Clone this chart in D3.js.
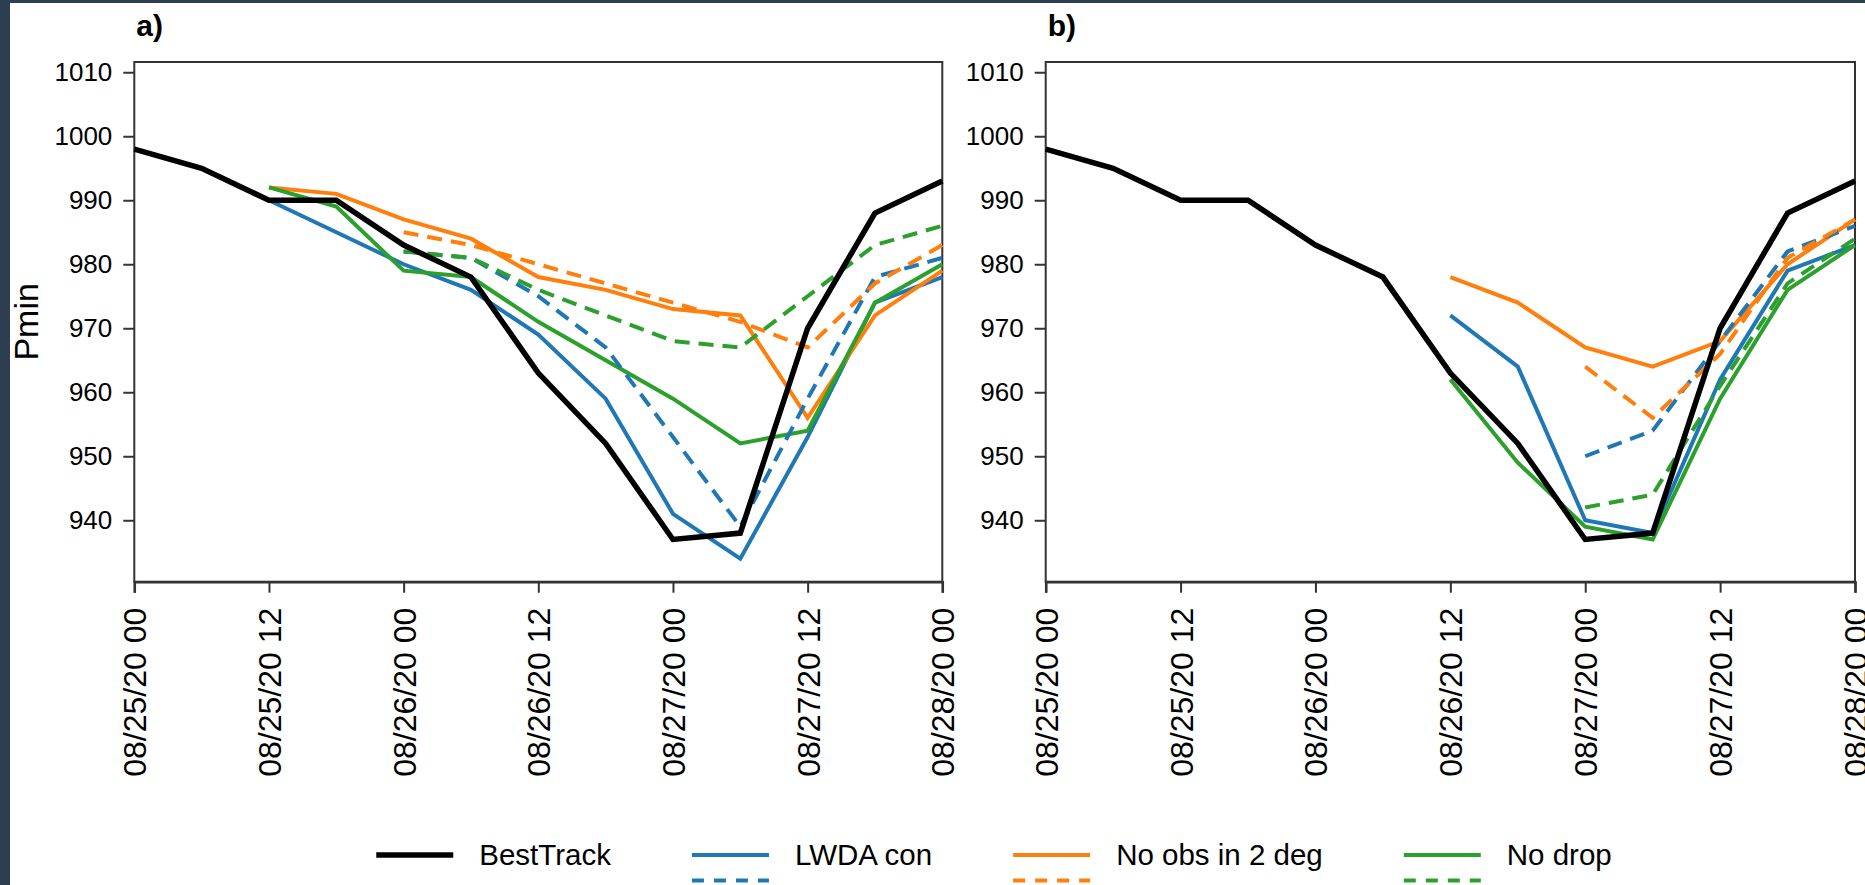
<!DOCTYPE html>
<html>
<head>
<meta charset="utf-8">
<script src="https://cdn.jsdelivr.net/npm/d3@7"></script>
<style>
  html, body { margin: 0; padding: 0; background: #fff; }
  svg { display: block; font-family: 'Liberation Sans', Arial, sans-serif; }
</style>
</head>
<body>
<div id="chart"></div>
<script>
'use strict';

const times = [
  '2020-08-25T00', '2020-08-25T06', '2020-08-25T12', '2020-08-25T18',
  '2020-08-26T00', '2020-08-26T06', '2020-08-26T12', '2020-08-26T18',
  '2020-08-27T00', '2020-08-27T06', '2020-08-27T12', '2020-08-27T18',
  '2020-08-28T00'
];
const tickTimes = [
  '2020-08-25T00', '2020-08-25T12', '2020-08-26T00', '2020-08-26T12',
  '2020-08-27T00', '2020-08-27T12', '2020-08-28T00'
];
const tickLabels = [
  '08/25/20 00', '08/25/20 12', '08/26/20 00', '08/26/20 12',
  '08/27/20 00', '08/27/20 12', '08/28/20 00'
];
const yTicks = [940, 950, 960, 970, 980, 990, 1000, 1010];
const yLimits = [930.4, 1011.6];

const bestTrack = [998, 995, 990, 990, 983, 978, 963, 952, 937, 938, 970, 988, 993];

const aLwdaCon = [null, null, 990, 985, 980, 976, 969, 959, 941, 934, 953, 974, 978];
const aLwdaConDash = [null, null, null, null, 982, 981, 975, 967, 953, 939, 959, 978, 981];
const aNoObs = [null, null, 992, 991, 987, 984, 978, 976, 973, 972, 956, 972, 979];
const aNoObsDash = [null, null, null, null, 985, 983, 980, 977, 974, 971, 967, 977, 983];
const aNoDrop = [null, null, 992, 989, 979, 978, 971, 965, 959, 952, 954, 974, 980];
const aNoDropDash = [null, null, null, null, 982, 981, 976, 972, 968, 967, 975, 983, 986];

const bLwdaCon = [null, null, null, null, null, null, 972, 964, 940, 938, 962, 979, 983];
const bLwdaConDash = [null, null, null, null, null, null, null, null, 950, 954, 968, 982, 986];
const bNoObs = [null, null, null, null, null, null, 978, 974, 967, 964, 968, 980, 987];
const bNoObsDash = [null, null, null, null, null, null, null, null, 964, 956, 966, 981, 987];
const bNoDrop = [null, null, null, null, null, null, 962, 949, 939, 937, 959, 976, 983];
const bNoDropDash = [null, null, null, null, null, null, null, null, 942, 944, 961, 977, 984];

const seriesNames = ['BestTrack', 'LWDA con', 'No obs in 2 deg', 'No drop'];
const seriesColors = ['#000000', '#1f77b4', '#ff7f0e', '#2ca02c'];

const parseTime = d3.utcParse('%Y-%m-%dT%H');

const W = 1865;
const H = 885;
const plotTop = 62;
const plotBottom = 581.7;
const plotDash = '15,9';
const legendDash = '12,10';

const panels = [
  {
    title: 'a)', left: 134.3, right: 942.3, yLabel: 'Pmin',
    lines: [
      [aLwdaCon, 1, false], [aNoObs, 2, false], [aNoDrop, 3, false],
      [aLwdaConDash, 1, true], [aNoObsDash, 2, true], [aNoDropDash, 3, true],
    ],
  },
  {
    title: 'b)', left: 1045.7, right: 1855, yLabel: null,
    lines: [
      [bLwdaCon, 1, false], [bNoObs, 2, false], [bNoDrop, 3, false],
      [bLwdaConDash, 1, true], [bNoObsDash, 2, true], [bNoDropDash, 3, true],
    ],
  },
];

const svg = d3
  .select('#chart')
  .append('svg')
  .attr('width', W)
  .attr('height', H);

svg.append('rect').attr('width', W).attr('height', H).attr('fill', '#fff');
svg.append('rect').attr('width', 10).attr('height', H).attr('fill', '#2c3e50');
svg.append('rect').attr('width', W).attr('height', 3).attr('fill', '#2c3e50');

const drawPanel = (panel) => {
  const xScale = d3
    .scaleUtc()
    .domain([parseTime(times[0]), parseTime(times[times.length - 1])])
    .range([panel.left, panel.right]);

  const yScale = d3
    .scaleLinear()
    .domain(yLimits)
    .range([plotBottom, plotTop]);

  const g = svg.append('g');

  g.append('g')
    .attr('transform', `translate(${panel.left}, 0)`)
    .call(
      d3.axisLeft(yScale)
        .tickValues(yTicks)
        .tickFormat(d3.format('d'))
        .tickSize(11)
        .tickPadding(11)
    )
    .call(a => a.attr('font-size', null).attr('font-family', null))
    .call(a => a.select('.domain').remove())
    .call(a => a.selectAll('line').attr('stroke', '#333').attr('stroke-width', 2))
    .call(a => a.selectAll('text').attr('fill', '#000').style('font-size', '26px'));

  g.append('g')
    .attr('transform', `translate(0, ${plotBottom})`)
    .call(
      d3.axisBottom(xScale)
        .tickValues(tickTimes.map(parseTime))
        .tickFormat((d, i) => tickLabels[i])
        .tickSize(11)
    )
    .call(a => a.attr('font-size', null).attr('font-family', null))
    .call(a => a.select('.domain').attr('stroke', '#333').attr('stroke-width', 2.5))
    .call(a => a.selectAll('line').attr('stroke', '#333').attr('stroke-width', 2))
    .call(a => a.selectAll('text')
      .attr('fill', '#000')
      .attr('transform', 'rotate(-90)')
      .attr('x', -26)
      .attr('y', 0)
      .attr('dy', '0.36em')
      .attr('text-anchor', 'end')
      .style('font-size', '32px'));

  g.append('rect')
    .attr('x', panel.left)
    .attr('y', plotTop)
    .attr('width', panel.right - panel.left)
    .attr('height', plotBottom - plotTop)
    .attr('fill', 'none')
    .attr('stroke', '#333')
    .attr('stroke-width', 2);

  const line = d3
    .line()
    .defined(d => d.v != null)
    .x(d => xScale(d.t))
    .y(d => yScale(d.v));

  const toPoints = values => values.map((v, i) => ({ t: parseTime(times[i]), v: v }));

  panel.lines.forEach(([values, colorIdx, dashed]) => {
    g.append('path')
      .datum(toPoints(values))
      .attr('d', line)
      .attr('fill', 'none')
      .attr('stroke', seriesColors[colorIdx])
      .attr('stroke-width', 4)
      .attr('stroke-dasharray', dashed ? plotDash : null);
  });

  g.append('path')
    .datum(toPoints(bestTrack))
    .attr('d', line)
    .attr('fill', 'none')
    .attr('stroke', seriesColors[0])
    .attr('stroke-width', 5.5);

  g.append('text')
    .attr('x', panel.left + 2)
    .attr('y', 36)
    .attr('font-weight', 'bold')
    .style('font-size', '30px')
    .text(panel.title);

  if (panel.yLabel) {
    svg.append('text')
      .attr('transform', `translate(38, ${(plotTop + plotBottom) / 2}) rotate(-90)`)
      .attr('text-anchor', 'middle')
      .style('font-size', '34px')
      .text(panel.yLabel);
  }
};

panels.forEach(drawPanel);

const legend = svg.append('g');
let cursor = 0;
seriesNames.forEach((name, i) => {
  const item = legend.append('g').attr('transform', `translate(${cursor}, 0)`);
  item.append('line')
    .attr('x1', 0).attr('x2', 77)
    .attr('y1', 855).attr('y2', 855)
    .attr('stroke', seriesColors[i])
    .attr('stroke-width', i === 0 ? 5.5 : 4);
  if (i > 0) {
    item.append('line')
      .attr('x1', 0).attr('x2', 77)
      .attr('y1', 880.5).attr('y2', 880.5)
      .attr('stroke', seriesColors[i])
      .attr('stroke-width', 4)
      .attr('stroke-dasharray', legendDash);
  }
  const label = item.append('text')
    .attr('x', 103)
    .attr('y', 865)
    .style('font-size', '29.5px')
    .text(name);
  cursor += 103 + label.node().getComputedTextLength() + 81;
});
const legendWidth = cursor - 81;
legend.attr('transform', `translate(${994 - legendWidth / 2}, 0)`);
</script>
</body>
</html>
